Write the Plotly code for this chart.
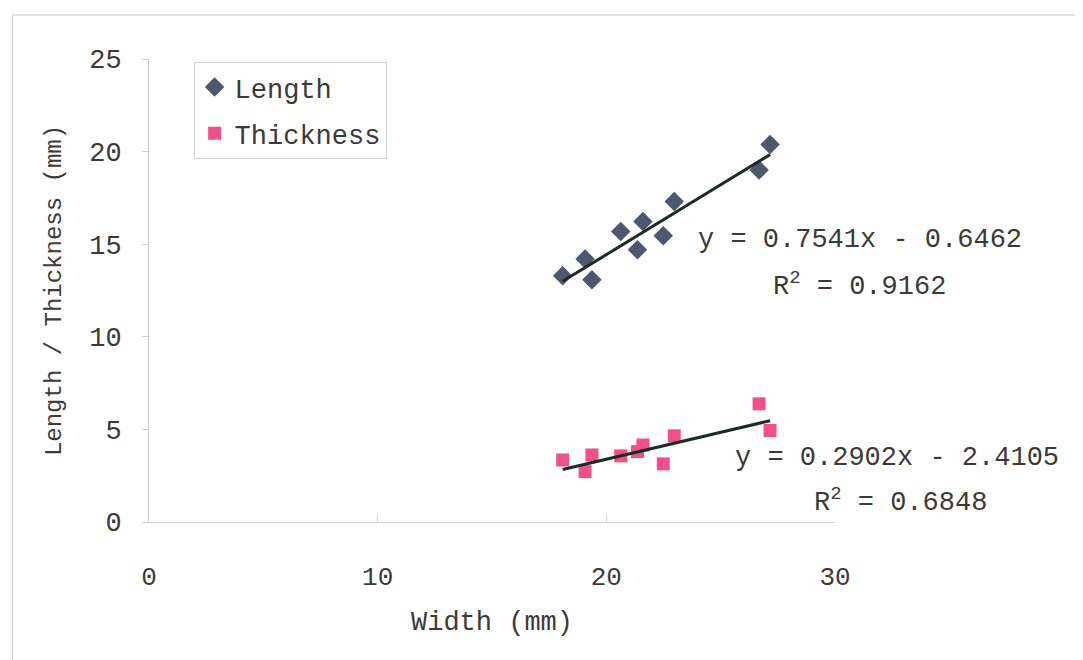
import numpy as np
import plotly.graph_objects as go

width = [18.09, 19.07, 19.37, 20.63, 21.60, 21.36, 22.49, 22.97, 26.68, 27.16]
length = [13.30, 14.20, 13.08, 15.69, 16.23, 14.70, 15.46, 17.31, 19.00, 20.38]
thickness = [3.35, 2.72, 3.62, 3.57, 4.16, 3.80, 3.14, 4.65, 6.38, 4.94]

# linear trendlines as printed on the chart
length_fit = (0.7541, -0.6462, 0.9162)
thickness_fit = (0.2902, -2.4105, 0.6848)

FONT = "Liberation Mono"
TEXT = "#3d3a36"
AXIS = "#cfcfcf"


def trend_trace(fit):
    slope, intercept, _ = fit
    xs = np.array([min(width), max(width)])
    return go.Scatter(
        x=xs, y=slope * xs + intercept,
        mode="lines",
        line=dict(color="#1c2a22", width=3),
        showlegend=False, hoverinfo="skip",
    )


def eq_text(fit):
    slope, intercept, _ = fit
    sign = "-" if intercept < 0 else "+"
    return f"y = {slope:.4f}x {sign} {abs(intercept):.4f}"


fig = go.Figure()

fig.add_trace(go.Scatter(
    x=width, y=length, mode="markers", name="Length", legendgroup="a",
    marker=dict(symbol="diamond", size=15, color="#4d586f"),
))
fig.add_trace(go.Scatter(
    x=width, y=thickness, mode="markers", name="Thickness", legendgroup="b",
    marker=dict(symbol="square", size=13, color="#f2508c"),
))
fig.add_trace(trend_trace(length_fit))
fig.add_trace(trend_trace(thickness_fit))

eq_font = dict(family=FONT, size=27, color=TEXT)
eq_pos = [
    (1.036, 0.609, eq_text(length_fit)),
    (1.036, 0.512, f"R<sup>2</sup> = {length_fit[2]:.4f}"),
    (1.091, 0.138, eq_text(thickness_fit)),
    (1.095, 0.0475, f"R<sup>2</sup> = {thickness_fit[2]:.4f}"),
]
for ex, ey, txt in eq_pos:
    fig.add_annotation(x=ex, y=ey, xref="paper", yref="paper", text=txt,
                       xanchor="center", yanchor="middle",
                       showarrow=False, font=eq_font)

# faint outer frame of the scanned figure
fig.add_shape(type="rect", xref="paper", yref="paper",
              x0=-0.199, x1=1.353, y0=-0.32, y1=1.095,
              line=dict(color="#dcdcdc", width=1.5))

fig.update_layout(
    width=1083, height=660,
    paper_bgcolor="white", plot_bgcolor="white",
    margin=dict(l=141, r=256, t=51, b=146),
    font=dict(family=FONT, color=TEXT),
    legend=dict(
        x=0.065, y=0.9935, xanchor="left", yanchor="top",
        font=dict(family=FONT, size=27, color=TEXT),
        bordercolor="#d0d0d0", borderwidth=1,
        tracegroupgap=8, bgcolor="white",
    ),
    xaxis=dict(
        range=[0, 30], tickvals=[0, 10, 20, 30],
        showgrid=False, zeroline=False,
        showline=True, linecolor=AXIS, linewidth=1,
        ticks="inside", ticklen=8, tickcolor=AXIS,
        tickfont=dict(family=FONT, size=26, color=TEXT),
        ticklabelstandoff=31,
        title=dict(text="Width (mm)", font=dict(family=FONT, size=27, color=TEXT), standoff=18),
    ),
    yaxis=dict(
        range=[0, 25], tickvals=[0, 5, 10, 15, 20, 25],
        showgrid=False, zeroline=False,
        showline=True, linecolor=AXIS, linewidth=1,
        ticks="outside", ticklen=6, tickcolor=AXIS,
        tickfont=dict(family=FONT, size=27, color=TEXT),
        ticklabelstandoff=15,
        title=dict(text="Length / Thickness (mm)", font=dict(family=FONT, size=24, color=TEXT), standoff=20),
    ),
)

fig.write_html("out.html")
